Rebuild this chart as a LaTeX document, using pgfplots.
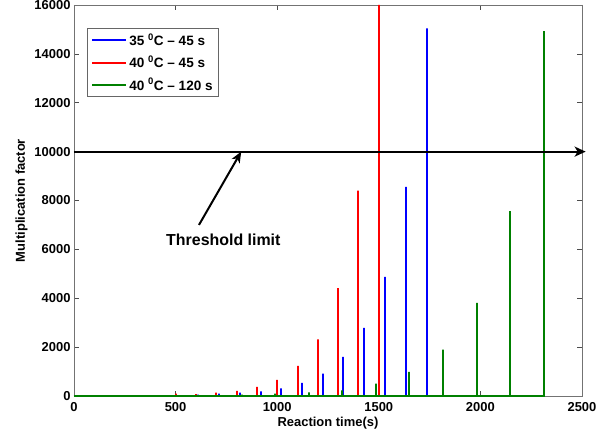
\documentclass[border=0pt]{standalone}
\usepackage{pgfplots}
\pgfplotsset{compat=1.18}
\usepackage{fontspec}
\setmainfont{Liberation Sans}
\usetikzlibrary{arrows.meta}

\definecolor{mblue}{RGB}{0,0,255}
\definecolor{mred}{RGB}{255,0,0}
\definecolor{mgreen}{RGB}{0,128,0}

\begin{document}
\begin{tikzpicture}
  \begin{axis}[
      scale only axis,
      width=508bp, height=391bp,
      xmin=0, xmax=2500,
      ymin=0, ymax=16000,
      xtick={0,500,...,2500},
      ytick={0,2000,...,16000},
      tick align=inside,
      major tick length=5bp,
      axis line style={black!55, line width=0.8bp},
      tick style={black!70, line width=0.6bp},
      /pgf/number format/assume math mode=true,
      /pgf/number format/set thousands separator={},
      scaled y ticks=false,
      ticklabel style={font=\fontsize{13}{15}\selectfont\bfseries},
      xticklabel style={yshift=-3bp},
      xlabel={Reaction time(s)},
      ylabel={Multiplication factor},
      label style={font=\fontsize{13}{15}\selectfont\bfseries},
      xlabel style={yshift=1bp},
      ylabel style={yshift=0bp},
      clip=false,
      legend style={at={(0.0256,0.94)}, anchor=north west,
        draw=black!60, line width=0.6bp,
        font=\fontsize{13.6}{15}\selectfont\bfseries,
        inner xsep=4bp, inner ysep=3bp,
        row sep=5bp,
        /tikz/every even column/.append style={column sep=1bp}},
      legend cell align={left},
      legend image code/.code={\draw[#1] (0bp,0bp) -- (34bp,0bp);},
    ]

    % 35 C - 45 s
    \addplot[mblue, line width=2bp] coordinates {
      (0,0)
      (408,0) (408,20) (408,0)
      (510,0) (510,40) (510,0)
      (612,0) (612,60) (612,0)
      (714,0) (714,100) (714,0)
      (817,0) (817,137) (817,0)
      (919,0) (919,190) (919,0)
      (1021,0) (1021,314) (1021,0)
      (1123,0) (1123,533) (1123,0)
      (1224,0) (1224,915) (1224,0)
      (1326,0) (1326,1598) (1326,0)
      (1428,0) (1428,2787) (1428,0)
      (1531,0) (1531,4877) (1531,0)
      (1633,0) (1633,8560) (1633,0)
      (1735,0) (1735,15040) (1735,0)
    };
    % 40 C - 45 s
    \addplot[mred, line width=2bp] coordinates {
      (0,0)
      (400,0) (400,30) (400,0)
      (500,0) (500,100) (500,0)
      (600,0) (600,80) (600,0)
      (700,0) (700,140) (700,0)
      (800,0) (800,205) (800,0)
      (900,0) (900,370) (900,0)
      (1000,0) (1000,655) (1000,0)
      (1100,0) (1100,1230) (1100,0)
      (1200,0) (1200,2320) (1200,0)
      (1300,0) (1300,4410) (1300,0)
      (1400,0) (1400,8400) (1400,0)
      (1500,0) (1500,16000) (1500,0)
    };
    % 40 C - 120 s
    \addplot[mgreen, line width=2bp] coordinates {
      (0,0)
      (495,0) (495,10) (495,0)
      (660,0) (660,40) (660,0)
      (825,0) (825,60) (825,0)
      (990,0) (990,95) (990,0)
      (1155,0) (1155,150) (1155,0)
      (1320,0) (1320,232) (1320,0)
      (1485,0) (1485,505) (1485,0)
      (1650,0) (1650,983) (1650,0)
      (1815,0) (1815,1898) (1815,0)
      (1981,0) (1981,3811) (1981,0)
      (2147,0) (2147,7570) (2147,0)
      (2311,0) (2311,14930) (2311,0)
    };
    \legend{35 \textsuperscript{0}C -- 45 s, 40 \textsuperscript{0}C -- 45 s, 40 \textsuperscript{0}C -- 120 s}

    % threshold line and annotation
    \draw[black, line width=2.2bp, -{Stealth[length=11bp, width=10bp, inset=3bp]}]
      (axis cs:0,10000) -- (axis cs:2518,10000);
    \draw[black, line width=2bp, -{Stealth[length=11bp, width=9bp, inset=3bp]}]
      (axis cs:615,7000) -- (axis cs:823,10000);
    \node[font=\fontsize{16}{18}\selectfont\bfseries] at (axis cs:735,6380) {Threshold limit};
  \end{axis}
  \pgfresetboundingbox
  \path ([shift={(-74bp,-38bp)}]current axis.south west) rectangle ([shift={(34bp,5bp)}]current axis.north east);
\end{tikzpicture}
\end{document}
